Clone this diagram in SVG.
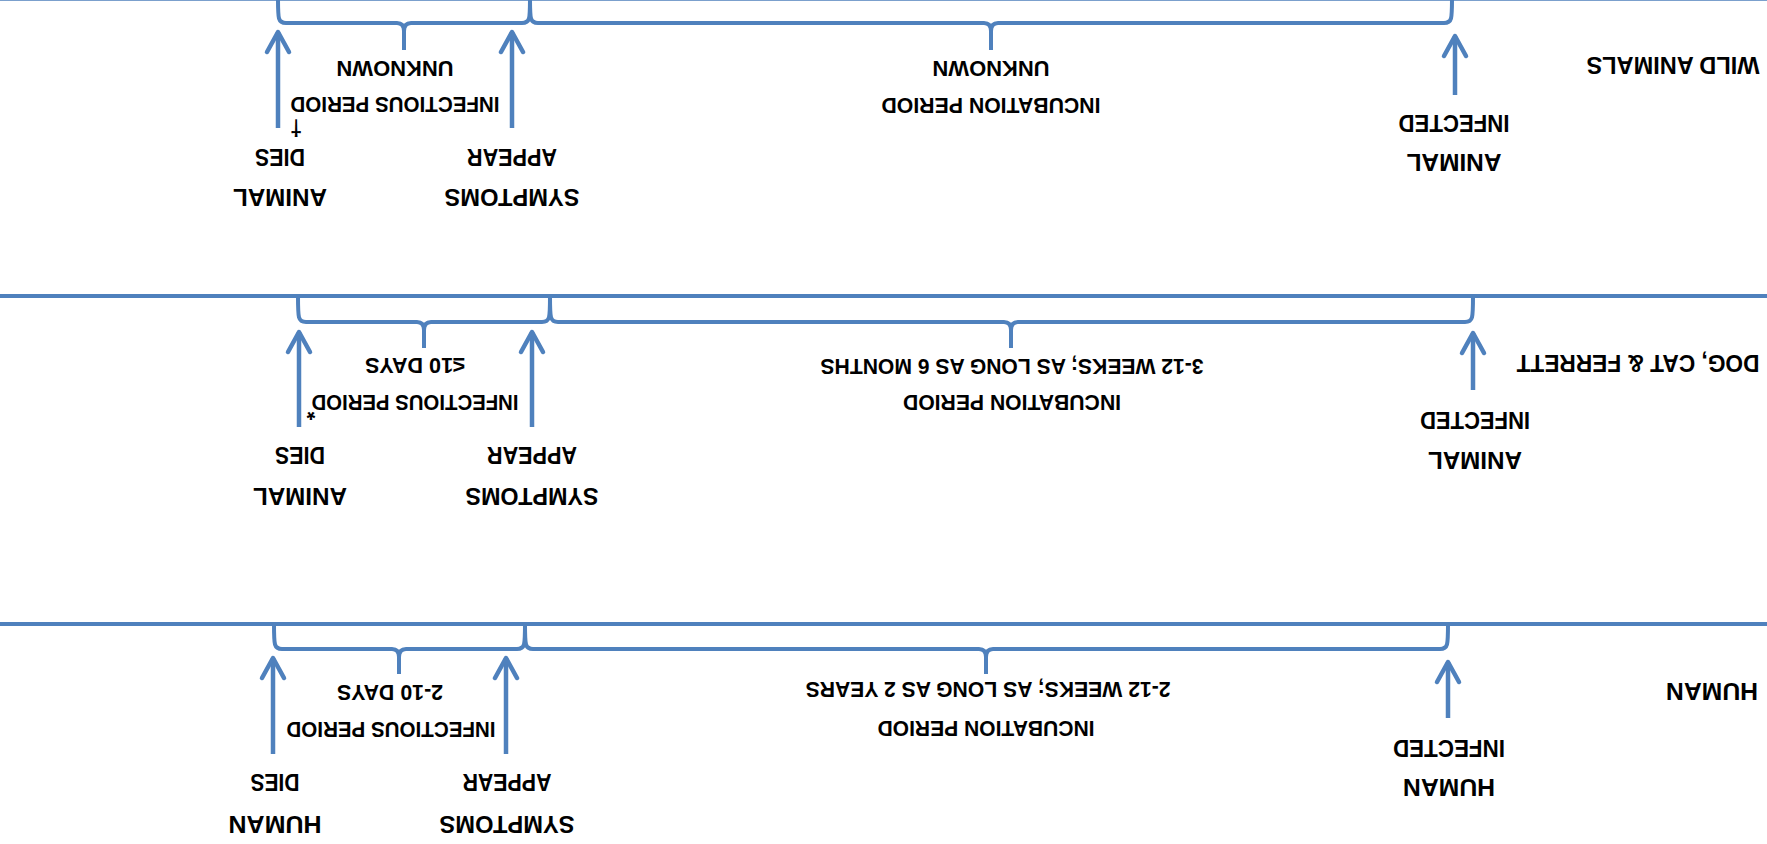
<svg xmlns="http://www.w3.org/2000/svg" width="1767" height="844" viewBox="0 0 1767 844">
<defs>
<style>
.ln{fill:none;stroke:#4f81bd;stroke-width:4}
.br{fill:none;stroke:#4f81bd;stroke-width:4;stroke-linejoin:round}
.ar{fill:none;stroke:#4f81bd;stroke-width:4.5}
text{font-family:"Liberation Sans",Arial,sans-serif;font-weight:bold;font-size:23.5px;fill:#000;text-anchor:middle}
text.p{font-size:22px}
</style>
<marker id="ah" viewBox="-25 -15 30 30" refX="0" refY="0" markerWidth="30" markerHeight="30" markerUnits="userSpaceOnUse" orient="auto">
<path d="M-20,-11 L0,0 L-20,11" fill="none" stroke="#4f81bd" stroke-width="4.5" stroke-linecap="round" stroke-linejoin="round"/>
</marker>
</defs>
<rect width="1767" height="844" fill="#fff"/>

<g id="connectors">
<line class="ln" x1="0" y1="-1.3" x2="1767" y2="-1.3"/>
<line class="ln" x1="0" y1="296" x2="1767" y2="296"/>
<line class="ln" x1="0" y1="624" x2="1767" y2="624"/>
<path class="br" d="M278,-2 C278,19 278,23 286,23 H397 Q404,23 404,31 V50 M404,31 Q404,23 411,23 H522 C530,23 530,19 530,-2"/>
<path class="br" d="M530,-2 C530,19 530,23 538,23 H984 Q991,23 991,31 V50 M991,31 Q991,23 998,23 H1444 C1452,23 1452,19 1452,-2"/>
<path class="br" d="M298,296 C298,318 298,322 306,322 H417 Q424,322 424,330 V348 M424,330 Q424,322 431,322 H542 C550,322 550,318 550,296"/>
<path class="br" d="M550,296 C550,318 550,322 558,322 H1004 Q1011,322 1011,330 V348 M1011,330 Q1011,322 1018,322 H1465 C1473,322 1473,318 1473,296"/>
<path class="br" d="M274,624 C274,645 274,649 282,649 H392 Q399,649 399,657 V674 M399,657 Q399,649 406,649 H517 C525,649 525,645 525,624"/>
<path class="br" d="M525,624 C525,645 525,649 533,649 H979 Q986,649 986,657 V674 M986,657 Q986,649 993,649 H1440 C1448,649 1448,645 1448,624"/>
<path class="ar" d="M278,128 V32" marker-end="url(#ah)"/>
<path class="ar" d="M512,128 V32" marker-end="url(#ah)"/>
<path class="ar" d="M1455,95 V36" marker-end="url(#ah)"/>
<path class="ar" d="M299,427 V332" marker-end="url(#ah)"/>
<path class="ar" d="M532,427 V332" marker-end="url(#ah)"/>
<path class="ar" d="M1473,390 V333" marker-end="url(#ah)"/>
<path class="ar" d="M273,754 V658" marker-end="url(#ah)"/>
<path class="ar" d="M506,754 V658" marker-end="url(#ah)"/>
<path class="ar" d="M1448,718 V662" marker-end="url(#ah)"/>
</g>

<g id="wild-label"><text x="1673" y="57" textLength="173" lengthAdjust="spacingAndGlyphs" transform="rotate(180 1673 57)">WILD ANIMALS</text></g>
<g id="wild-infectious">
<text class="p" x="395" y="61" textLength="117" lengthAdjust="spacingAndGlyphs" transform="rotate(180 395 61)">UNKNOWN</text>
<text class="p" x="395" y="97" textLength="209" lengthAdjust="spacingAndGlyphs" transform="rotate(180 395 97)">INFECTIOUS PERIOD</text>
<text class="p" x="296" y="121" transform="rotate(180 296 121)">†</text>
</g>
<g id="wild-dies">
<text x="280" y="149" textLength="50" lengthAdjust="spacingAndGlyphs" transform="rotate(180 280 149)">DIES</text>
<text x="280" y="189" textLength="94" lengthAdjust="spacingAndGlyphs" transform="rotate(180 280 189)">ANIMAL</text>
</g>
<g id="wild-symptoms">
<text x="512" y="149" textLength="90" lengthAdjust="spacingAndGlyphs" transform="rotate(180 512 149)">APPEAR</text>
<text x="512" y="189" textLength="135" lengthAdjust="spacingAndGlyphs" transform="rotate(180 512 189)">SYMPTOMS</text>
</g>
<g id="wild-incubation">
<text class="p" x="991" y="61" textLength="117" lengthAdjust="spacingAndGlyphs" transform="rotate(180 991 61)">UNKNOWN</text>
<text class="p" x="991" y="98" textLength="219" lengthAdjust="spacingAndGlyphs" transform="rotate(180 991 98)">INCUBATION PERIOD</text>
</g>
<g id="wild-infected">
<text x="1454" y="115" textLength="111" lengthAdjust="spacingAndGlyphs" transform="rotate(180 1454 115)">INFECTED</text>
<text x="1454" y="154" textLength="95" lengthAdjust="spacingAndGlyphs" transform="rotate(180 1454 154)">ANIMAL</text>
</g>

<g id="dog-label"><text x="1638" y="355" textLength="243" lengthAdjust="spacingAndGlyphs" transform="rotate(180 1638 355)">DOG, CAT &amp; FERRETT</text></g>
<g id="dog-infectious">
<text class="p" x="415" y="358" textLength="100" lengthAdjust="spacingAndGlyphs" transform="rotate(180 415 358)">≤10 DAYS</text>
<text class="p" x="415" y="395" textLength="207" lengthAdjust="spacingAndGlyphs" transform="rotate(180 415 395)">INFECTIOUS PERIOD</text>
<text class="p" x="311" y="405" transform="rotate(180 311 405)">*</text>
</g>
<g id="dog-dies">
<text x="300" y="447" textLength="50" lengthAdjust="spacingAndGlyphs" transform="rotate(180 300 447)">DIES</text>
<text x="300" y="488" textLength="94" lengthAdjust="spacingAndGlyphs" transform="rotate(180 300 488)">ANIMAL</text>
</g>
<g id="dog-symptoms">
<text x="532" y="447" textLength="90" lengthAdjust="spacingAndGlyphs" transform="rotate(180 532 447)">APPEAR</text>
<text x="532" y="488" textLength="133" lengthAdjust="spacingAndGlyphs" transform="rotate(180 532 488)">SYMPTOMS</text>
</g>
<g id="dog-incubation">
<text class="p" x="1012" y="359" textLength="383" lengthAdjust="spacingAndGlyphs" transform="rotate(180 1012 359)">3-12 WEEKS; AS LONG AS 6 MONTHS</text>
<text class="p" x="1012" y="395" textLength="218" lengthAdjust="spacingAndGlyphs" transform="rotate(180 1012 395)">INCUBATION PERIOD</text>
</g>
<g id="dog-infected">
<text x="1475" y="412" textLength="110" lengthAdjust="spacingAndGlyphs" transform="rotate(180 1475 412)">INFECTED</text>
<text x="1475" y="452" textLength="94" lengthAdjust="spacingAndGlyphs" transform="rotate(180 1475 452)">ANIMAL</text>
</g>

<g id="human-label"><text x="1712" y="683" textLength="92" lengthAdjust="spacingAndGlyphs" transform="rotate(180 1712 683)">HUMAN</text></g>
<g id="human-infectious">
<text class="p" x="390" y="685" textLength="106" lengthAdjust="spacingAndGlyphs" transform="rotate(180 390 685)">2-10 DAYS</text>
<text class="p" x="391" y="722" textLength="209" lengthAdjust="spacingAndGlyphs" transform="rotate(180 391 722)">INFECTIOUS PERIOD</text>
</g>
<g id="human-dies">
<text x="275" y="774" textLength="49" lengthAdjust="spacingAndGlyphs" transform="rotate(180 275 774)">DIES</text>
<text x="275" y="816" textLength="93" lengthAdjust="spacingAndGlyphs" transform="rotate(180 275 816)">HUMAN</text>
</g>
<g id="human-symptoms">
<text x="507" y="774" textLength="89" lengthAdjust="spacingAndGlyphs" transform="rotate(180 507 774)">APPEAR</text>
<text x="507" y="816" textLength="135" lengthAdjust="spacingAndGlyphs" transform="rotate(180 507 816)">SYMPTOMS</text>
</g>
<g id="human-incubation">
<text class="p" x="988" y="682" textLength="365" lengthAdjust="spacingAndGlyphs" transform="rotate(180 988 682)">2-12 WEEKS; AS LONG AS 2 YEARS</text>
<text class="p" x="986" y="721" textLength="217" lengthAdjust="spacingAndGlyphs" transform="rotate(180 986 721)">INCUBATION PERIOD</text>
</g>
<g id="human-infected">
<text x="1449" y="740" textLength="112" lengthAdjust="spacingAndGlyphs" transform="rotate(180 1449 740)">INFECTED</text>
<text x="1449" y="779" textLength="92" lengthAdjust="spacingAndGlyphs" transform="rotate(180 1449 779)">HUMAN</text>
</g>
</svg>
